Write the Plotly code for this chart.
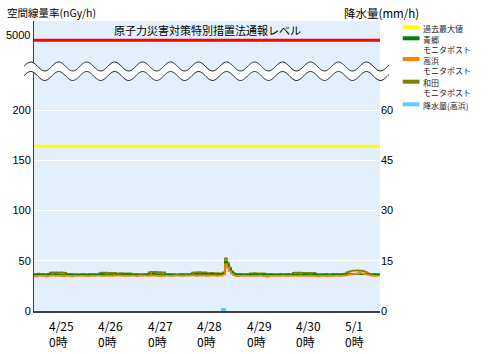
import math
import pandas as pd
import plotly.graph_objects as go

# ---------------- data ----------------
times = pd.date_range("2024-04-24 16:00", periods=169, freq="h")

aogo = [  # 青郷 モニタポスト (nGy/h)
    36.4, 36.0, 36.3, 36.6, 36.2, 36.5, 36.1, 36.4,
    36.6, 36.8, 36.5, 36.7, 36.4, 36.6, 36.3, 36.5, 36.2, 36.4, 36.1, 36.3, 36.5, 36.2, 36.0, 36.3, 36.4, 36.1, 36.3, 36.5, 36.2, 36.4, 36.6, 36.3,
    36.5, 36.7, 36.4, 36.6, 36.3, 36.5, 36.2, 36.4, 36.6, 36.3, 36.1, 36.4, 36.2, 36.5, 36.3, 36.0, 36.2, 36.4, 36.1, 36.3, 36.5, 36.2, 36.4, 36.6,
    36.8, 36.6, 36.9, 36.7, 36.5, 36.8, 36.6, 36.4, 36.2, 36.5, 36.3, 36.1, 36.4, 36.2, 36.0, 36.3, 36.5, 36.2, 36.4, 36.6, 36.3, 36.5, 36.7, 36.9,
    36.8, 36.6, 36.9, 36.7, 37.0, 36.8, 36.6, 36.9, 36.7, 36.5, 36.8, 36.6, 37.2, 49.0, 45.5, 41.5, 38.8, 37.2, 36.6, 36.3, 36.5, 36.2, 36.4, 36.1,
    36.3, 36.5, 36.2, 36.4, 36.6, 36.3, 36.1, 36.4, 36.2, 36.0, 36.3, 36.5, 36.2, 36.4, 36.1, 36.3, 36.5, 36.2, 36.4, 36.6, 36.3, 36.1, 36.4, 36.2,
    36.5, 36.3, 36.6, 36.4, 36.2, 36.5, 36.3, 36.1, 36.4, 36.2, 36.0, 36.3, 36.5, 36.2, 36.4, 36.1, 36.3, 36.5, 36.2, 36.4, 36.6, 36.3, 36.5, 36.7,
    36.6, 36.8, 37.0, 36.7, 36.9, 37.1, 36.8, 36.6, 36.9, 36.7, 36.5, 36.4, 36.6, 36.3, 36.5, 36.4, 36.6,
]
takahama = [  # 高浜 モニタポスト (nGy/h)
    35.0, 34.4, 35.1, 35.3, 34.8, 35.2, 34.5, 35.0,
    35.2, 35.4, 35.1, 34.9, 35.3, 35.0, 34.6, 35.2, 34.9, 35.1, 34.5, 35.0, 35.2, 34.8, 35.0, 35.3, 34.9, 35.1, 34.7, 35.0, 35.2, 34.9, 35.1, 35.3,
    35.1, 34.8, 35.0, 35.2, 34.9, 35.3, 35.0, 35.4, 35.2, 35.5, 35.1, 35.3, 35.0, 35.2, 34.8, 35.1, 35.3, 35.0, 34.7, 35.2, 35.4, 35.1, 35.3, 35.0,
    35.2, 35.4, 35.1, 35.3, 35.0, 34.7, 35.2, 35.0, 35.3, 35.1, 34.8, 35.0, 35.2, 35.4, 35.1, 35.3, 35.0, 35.2, 35.4, 35.1, 35.3, 35.5, 35.2, 35.0,
    35.3, 35.1, 35.4, 35.2, 35.0, 35.3, 35.1, 35.4, 35.2, 35.0, 35.3, 35.1, 36.0, 46.5, 43.2, 39.5, 37.0, 35.6, 35.0, 34.7, 35.1, 34.9, 35.2, 35.0,
    35.1, 34.8, 35.0, 35.2, 34.9, 35.1, 35.3, 35.0, 34.6, 34.2, 34.8, 35.1, 34.9, 35.2, 35.0, 34.8, 35.1, 35.3, 35.0, 34.9, 35.2, 35.0, 34.8, 35.1,
    35.0, 35.2, 34.9, 35.1, 34.8, 35.0, 35.2, 34.9, 35.1, 34.7, 34.5, 34.9, 35.1, 35.0, 34.6, 35.2, 35.0, 34.8, 35.1, 35.3, 35.0, 34.9, 35.2, 35.4,
    35.6, 36.0, 36.4, 36.8, 37.2, 37.6, 37.9, 37.5, 37.2, 36.6, 36.0, 35.5, 35.2, 35.0, 34.8, 35.1, 35.0,
]
wada = [  # 和田 モニタポスト (nGy/h)
    36.6, 36.4, 37.2, 36.5, 36.8, 36.3, 36.6, 36.9,
    38.2, 38.5, 38.0, 38.4, 38.1, 38.6, 38.3, 37.9, 36.8, 36.5, 36.7, 36.4, 36.6, 36.3, 36.5, 36.8, 36.4, 36.6, 36.3, 36.5, 36.7, 36.4, 36.6, 36.5,
    37.8, 38.2, 37.9, 38.3, 38.0, 37.7, 38.1, 37.9, 37.6, 37.4, 37.8, 37.5, 37.3, 37.6, 37.4, 37.2, 36.6, 36.4, 36.7, 36.5, 36.3, 36.6, 36.4, 36.7,
    38.6, 39.0, 38.7, 38.9, 38.5, 38.8, 38.4, 38.6, 36.8, 36.5, 36.7, 36.4, 36.6, 36.3, 36.5, 36.7, 36.4, 36.6, 36.8, 36.5, 36.7, 38.3, 38.6, 38.4,
    38.7, 38.5, 38.3, 38.6, 37.8, 37.6, 37.9, 37.7, 37.5, 37.8, 37.6, 37.4, 38.5, 52.4, 48.0, 43.2, 39.6, 37.6, 36.8, 36.5, 36.7, 36.4, 36.6, 36.8,
    36.5, 37.6, 37.4, 37.7, 37.5, 37.3, 37.6, 37.4, 37.2, 36.5, 36.7, 36.4, 36.6, 36.3, 36.5, 36.7, 36.4, 36.6, 36.3, 36.5, 36.7, 36.4, 38.0, 38.3,
    37.9, 38.2, 38.0, 37.7, 38.1, 37.8, 38.0, 37.6, 37.9, 36.7, 36.4, 36.6, 36.3, 36.5, 36.7, 36.4, 36.6, 36.8, 36.5, 36.7, 36.4, 36.6, 36.9, 37.2,
    38.5, 39.2, 39.8, 40.3, 40.0, 40.5, 39.9, 40.2, 39.6, 38.8, 37.5, 36.8, 36.5, 36.7, 36.4, 36.6, 36.5,
]
rain_times = ["2024-04-28 12:30"]
rain_values = [1.0]  # 降水量(高浜) mm/h

past_max = 164          # 過去最大値 (nGy/h)
notify_level = 5000     # 原子力災害対策特別措置法通報レベル (nGy/h)

day_ticks = ["2024-04-25", "2024-04-26", "2024-04-27", "2024-04-28",
             "2024-04-29", "2024-04-30", "2024-05-01"]
day_labels = ["4/25", "4/26", "4/27", "4/28", "4/29", "4/30", "5/1"]
hour_labels = ["0時"] * 7
left_ticks = [0, 50, 100, 150, 200]
right_ticks = [0, 15, 30, 45, 60]

legend_names = ["過去最大値", "青郷<br>モニタポスト", "高浜<br>モニタポスト",
                "和田<br>モニタポスト", "降水量(高浜)"]

x_range = ["2024-04-24 16:19", "2024-05-01 16:19"]

# ---------------- layout geometry ----------------
W, H = 500, 354
L, R, T, B = 30, 380, 21, 311
Y_TOP = 288.56         # left axis top (linear part 0-200, break above)
Y2_TOP = 86.57
BREAK_POS = 269.4      # where values above the break are displayed


def disp(v):
    return v if v <= 200 else BREAK_POS


def px(x):
    return (x - L) / (R - L)


def py(y):
    return (B - y) / (B - T)


FONT = "Noto Sans CJK JP"
C_GREEN, C_ORANGE, C_OLIVE = "#008000", "#FF8000", "#808000"
C_RAIN, C_YEL, C_RED = "#66C6FF", "#FFFF00", "#FF0000"

fig = go.Figure()

# rain bars (right axis)
fig.add_trace(go.Bar(x=pd.to_datetime(rain_times), y=rain_values, yaxis="y2",
                     marker=dict(color=C_RAIN, line=dict(width=0)),
                     width=2.4 * 3600 * 1000, showlegend=False))

# threshold lines
fig.add_trace(go.Scatter(x=x_range, y=[disp(past_max)] * 2, mode="lines",
                         line=dict(color=C_YEL, width=3), showlegend=False))
fig.add_trace(go.Scatter(x=x_range, y=[disp(notify_level)] * 2, mode="lines",
                         line=dict(color=C_RED, width=3), showlegend=False))

for vals, col in [(wada, C_OLIVE), (aogo, C_GREEN), (takahama, C_ORANGE)]:
    fig.add_trace(go.Scatter(x=times, y=vals, mode="lines",
                             line=dict(color=col, width=1.6, shape="hv"),
                             showlegend=False))

# day dots below the axis
fig.add_trace(go.Scatter(x=pd.to_datetime(day_ticks), y=[-4] * 7, mode="markers",
                         marker=dict(size=4, color=["#000"] * 6 + ["#FF0000"]),
                         cliponaxis=False, showlegend=False, hoverinfo="skip"))

# ---------------- axis break waves ----------------
def wave(center, x0=20, x1=389, step=1.0):
    pts = []
    x = x0
    while x <= x1 + 0.01:
        pts.append((x, center - 4.5 * math.cos(2 * math.pi * (x - 26.7) / 28.3)))
        x += step
    return pts


w1 = wave(66.5)
w2 = wave(76.0)
band = "M " + " L ".join(f"{px(a):.4f},{py(b):.4f}" for a, b in w1)
band += " L " + " L ".join(f"{px(a):.4f},{py(b):.4f}" for a, b in reversed(w2)) + " Z"
shapes = [dict(type="path", path=band, xref="paper", yref="paper",
               fillcolor="white", line=dict(width=0), layer="above")]
for w in (w1, w2):
    p = "M " + " L ".join(f"{px(a):.4f},{py(b):.4f}" for a, b in w)
    shapes.append(dict(type="path", path=p, xref="paper", yref="paper",
                       line=dict(color="#222", width=1), layer="above"))

# ---------------- legend (drawn) ----------------
leg_colors = [C_YEL, C_GREEN, C_ORANGE, C_OLIVE, C_RAIN]
leg_swatch_y = [27.3, 38.3, 59.0, 81.7, 104.3]
leg_text_top = [22.3, 33.0, 54.0, 76.0, 99.1]
annotations = []
for name, col, sy, ty in zip(legend_names, leg_colors, leg_swatch_y, leg_text_top):
    shapes.append(dict(type="rect", xref="paper", yref="paper",
                       x0=px(403), x1=px(420), y0=py(sy + 2), y1=py(sy - 2),
                       fillcolor=col, line=dict(width=0)))
    annotations.append(dict(text=name, xref="paper", yref="paper", x=px(422),
                            y=py(ty), xanchor="left", yanchor="top", align="left",
                            showarrow=False, borderpad=0,
                            font=dict(family=FONT, size=8, color="#222")))

# axis titles and inner label
annotations += [
    dict(text="空間線量率(nGy/h)", xref="paper", yref="paper", x=px(1), y=py(13),
         xanchor="left", yanchor="middle", showarrow=False,
         font=dict(family=FONT, size=10.5, color="#000")),
    dict(text="降水量(mm/h)", xref="paper", yref="paper", x=px(342), y=py(13),
         xanchor="left", yanchor="middle", showarrow=False,
         font=dict(family=FONT, size=11.5, color="#000")),
    dict(text="原子力災害対策特別措置法通報レベル", xref="paper", yref="paper",
         x=px(205), y=py(30), xanchor="center", yanchor="middle", showarrow=False,
         font=dict(family=FONT, size=11, color="#000")),
    dict(text="5000", xref="paper", yref="paper", x=px(28), y=py(35),
         xanchor="right", yanchor="middle", showarrow=False,
         font=dict(family="Liberation Sans", size=11, color="#000")),
]
for d, lab, hl in zip(day_ticks, day_labels, hour_labels):
    annotations.append(dict(text=f"{lab}<br>{hl}", x=pd.Timestamp(d), xref="x",
                            yref="paper", y=py(333.5), xanchor="left",
                            yanchor="middle", align="left", xshift=-2, borderpad=0,
                            showarrow=False,
                            font=dict(family=FONT, size=12, color="#000")))

fig.update_layout(
    width=W, height=H,
    margin=dict(l=L, r=W - R, t=T, b=H - B, pad=0),
    paper_bgcolor="white", plot_bgcolor="#E3F0FB",
    showlegend=False, bargap=0,
    xaxis=dict(type="date", range=[pd.Timestamp(x_range[0]), pd.Timestamp(x_range[1])],
               showticklabels=False, ticks="", showgrid=False, zeroline=False,
               showline=True, linecolor="#404040", linewidth=2),
    yaxis=dict(range=[0, Y_TOP], tickvals=left_ticks, ticks="", showgrid=True,
               gridcolor="white", gridwidth=1, zeroline=False,
               showline=True, linecolor="#404040", linewidth=1,
               tickfont=dict(family="Liberation Sans", size=11, color="#000")),
    yaxis2=dict(range=[0, Y2_TOP], overlaying="y", side="right", tickvals=right_ticks,
                ticks="", showgrid=False, zeroline=False, showline=False,
                tickfont=dict(family="Liberation Sans", size=11, color="#000")),
    shapes=shapes, annotations=annotations,
)

fig.write_html("out.html")
